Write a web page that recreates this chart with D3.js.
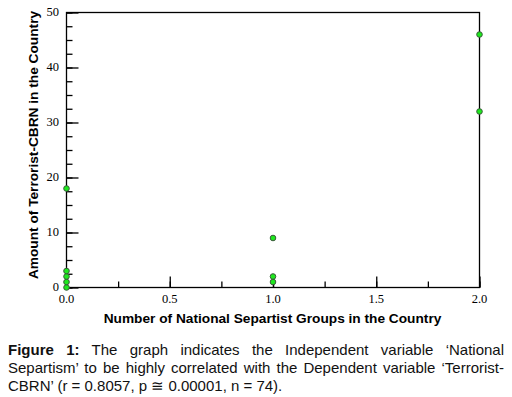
<!DOCTYPE html>
<html>
<head>
<meta charset="utf-8">
<script src="https://cdn.jsdelivr.net/npm/d3@7"></script>
<style>
  body { margin: 0; background: #fff; }
  #chart { position: absolute; left: 0; top: 0; }
  .caption { position: absolute; left: 8px; top: 341px; width: 496px;
    font-family: Arial, "Liberation Sans", sans-serif; font-size: 15px; line-height: 18px; color: #111; }
  .caption div { text-align: justify; text-align-last: justify; white-space: nowrap; }
  .caption div.last { text-align-last: left; }
</style>
</head>
<body>
<svg id="chart" width="512" height="335"></svg>
<div class="caption">
  <div><b>Figure 1:</b> The graph indicates the Independent variable ‘National</div>
  <div>Separtism’ to be highly correlated with the Dependent variable ‘Terrorist-</div>
  <div class="last">CBRN’ (r = 0.8057, p ≅ 0.00001, n = 74).</div>
</div>
<script>
// data
let groups = [0, 0, 0, 0, 0, 1, 1, 1, 2, 2]
let cbrn = [0, 1, 2, 3, 18, 1, 2, 9, 32, 46]
let xTicks = [0, 0.5, 1, 1.5, 2]
let yTicks = [0, 10, 20, 30, 40, 50]

let points = groups.map((g, i) => ({ x: g, y: cbrn[i] }))

let margin = { top: 12, right: 33, bottom: 48, left: 66 }
let width = 512 - margin.left - margin.right
let height = 335 - margin.top - margin.bottom

let svg = d3.select('#chart')
  .append('g')
  .attr('transform', 'translate(' + margin.left + ',' + margin.top + ')')

let x = d3.scaleLinear().domain([0, 2]).range([0, width])
let y = d3.scaleLinear().domain([0, 50]).range([height, 0])

// frame
svg.append('rect')
  .attr('x', 0.5).attr('y', 0.5)
  .attr('width', width).attr('height', height)
  .attr('fill', 'none').attr('stroke', '#000').attr('stroke-width', 1.3)

// minor ticks
svg.append('g')
  .attr('transform', 'translate(0.5,' + (height + 0.5) + ')')
  .call(d3.axisTop(x).tickValues(d3.range(0, 2.01, 0.25)).tickSize(6).tickFormat(''))
  .call(g => g.select('.domain').remove())
svg.append('g')
  .attr('transform', 'translate(0.5,0.5)')
  .call(d3.axisRight(y).tickValues(d3.range(0, 50.1, 2.5)).tickSize(6).tickFormat(''))
  .call(g => g.select('.domain').remove())

// major ticks
svg.append('g')
  .attr('transform', 'translate(0.5,' + (height + 0.5) + ')')
  .call(d3.axisTop(x).tickValues(xTicks).tickSize(11).tickFormat(''))
  .call(g => g.select('.domain').remove())
svg.append('g')
  .attr('transform', 'translate(0.5,0.5)')
  .call(d3.axisRight(y).tickValues(yTicks).tickSize(12).tickFormat(''))
  .call(g => g.select('.domain').remove())

svg.selectAll('.tick line').attr('stroke', '#000').attr('stroke-width', 1.3)

// tick labels
svg.selectAll('.xlab')
  .data(xTicks)
  .enter().append('text')
  .attr('x', d => x(d) + 0.5)
  .attr('y', height + 16)
  .attr('text-anchor', 'middle')
  .attr('font-family', '"Liberation Serif", "Times New Roman", serif')
  .attr('font-size', 12.5)
  .text(d => d3.format('.1f')(d))

svg.selectAll('.ylab')
  .data(yTicks)
  .enter().append('text')
  .attr('x', -7)
  .attr('y', d => y(d) + 4)
  .attr('text-anchor', 'end')
  .attr('font-family', '"Liberation Serif", "Times New Roman", serif')
  .attr('font-size', 12.5)
  .text(d => d)

// axis titles
svg.append('text')
  .attr('x', (103 + 442) / 2 - margin.left)
  .attr('y', height + 36)
  .attr('text-anchor', 'middle')
  .attr('font-family', 'Arial, "Liberation Sans", sans-serif')
  .attr('font-weight', 'bold')
  .attr('font-size', 13.7)
  .text('Number of National Separtist Groups in the Country')

svg.append('text')
  .attr('transform', 'translate(-28,' + (145 - margin.top) + ') rotate(-90)')
  .attr('text-anchor', 'middle')
  .attr('font-family', 'Arial, "Liberation Sans", sans-serif')
  .attr('font-weight', 'bold')
  .attr('font-size', 13.7)
  .text('Amount of Terrorist-CBRN in the Country')

// points
svg.selectAll('.dot')
  .data(points)
  .enter().append('circle')
  .attr('class', 'dot')
  .attr('cx', d => x(d.x) + 0.5)
  .attr('cy', d => y(d.y) + 0.5)
  .attr('r', 2.8)
  .attr('fill', '#1ee81e')
  .attr('stroke', '#3a5a3a')
  .attr('stroke-width', 1)
</script>
</body>
</html>
